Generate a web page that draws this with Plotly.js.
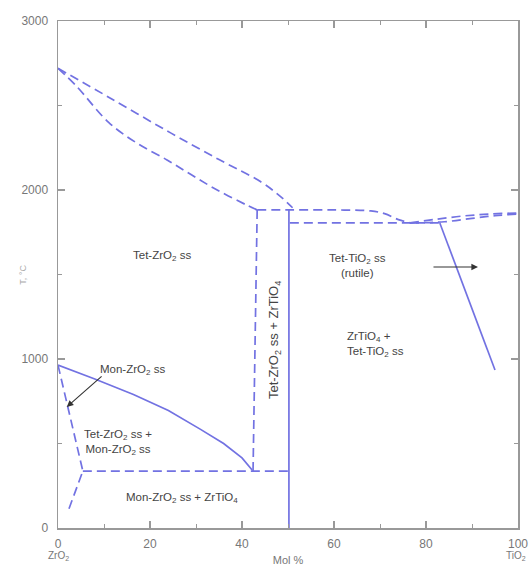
<!DOCTYPE html>
<html>
<head>
<meta charset="utf-8">
<script src="https://cdn.plot.ly/plotly-3.0.1.min.js"></script>
<style>
  html, body { margin: 0; padding: 0; background: #fff; }
  #chart { width: 529px; height: 567px; }
</style>
</head>
<body>
<div id="chart"></div>
<script>
// ZrO2–TiO2 phase diagram (composition in mol % TiO2, temperature in °C)

// Liquidus from pure ZrO2 down to the ZrTiO4 region
const liquidusX = [0, 11.3, 23.7, 35, 44, 48, 51];
const liquidusY = [2720, 2545, 2350, 2180, 2050, 1970, 1895];

// Solidus of tetragonal ZrO2 solid solution
const solidusX = [0, 4, 11, 17, 23.7, 29, 34.6, 41, 43.3];
const solidusY = [2720, 2615, 2400, 2280, 2178, 2090, 2000, 1911, 1882];

// Upper horizontal line and dip to the minimum
const upperX = [43.3, 50.4, 60, 68, 71, 74, 76.5];
const upperY = [1882, 1882, 1882, 1876, 1860, 1825, 1806];

// Lower horizontal line (ZrTiO4 + Tet-TiO2 ss boundary)
const lowerX = [50.4, 83];
const lowerY = [1805, 1805];

// Tet-TiO2 ss liquidus / solidus lens toward pure TiO2
const lensUpperX = [76.5, 82, 88, 94, 100];
const lensUpperY = [1806, 1826, 1846, 1858, 1864];
const lensLowerX = [76.5, 84, 90, 95, 100];
const lensLowerY = [1804, 1812, 1832, 1848, 1858];

// Tet-ZrO2 ss limit (vertical dashed)
const tetLimitX = [43.3, 42.4];
const tetLimitY = [1882, 337];

// ZrTiO4 line
const zrtiX = [50.2, 50.2];
const zrtiY = [1882, 0];

// Mon/Tet ZrO2 transformation boundary
const monBoundX = [0, 8, 16.4, 24, 30.9, 36, 40, 42.2];
const monBoundY = [964, 882, 790, 695, 585, 500, 415, 343];

// Eutectoid horizontal line
const eutectoidX = [5.4, 50.2];
const eutectoidY = [337, 337];

// Mon-ZrO2 ss limit
const monLimitX = [0, 5.4, 2.2];
const monLimitY = [964, 337, 100];

// Rutile solvus
const rutileX = [83, 95];
const rutileY = [1805, 935];

// Region labels: x, y, text
const labelX = [22.6, 65, 62.4, 16.3, 13, 27];
const labelY = [1609, 1556, 1083, 935, 503, 178];
const labelText = [
  'Tet-ZrO<sub>2</sub> ss',
  'Tet-TiO<sub>2</sub> ss<br>(rutile)',
  'ZrTiO<sub>4</sub> +<br>Tet-TiO<sub>2</sub> ss',
  'Mon-ZrO<sub>2</sub> ss',
  'Tet-ZrO<sub>2</sub> ss +<br>Mon-ZrO<sub>2</sub> ss',
  'Mon-ZrO<sub>2</sub> ss + ZrTiO<sub>4</sub>'
];
const labelAnchor = ['center', 'center', 'left', 'center', 'center', 'center'];

// Vertical label inside the narrow two-phase field
const vertLabelX = 47.1;
const vertLabelY = 1110;
const vertLabelText = 'Tet-ZrO<sub>2</sub> ss + ZrTiO<sub>4</sub>';

// Arrows: tail and head
const monArrow = { tailX: 9.8, tailY: 905, headX: 1.9, headY: 716 };
const rutileArrow = { tailX: 81.3, tailY: 1544, headX: 91.3, headY: 1544 };

const xTicks = [0, 20, 40, 60, 80, 100];
const yTicks = [0, 1000, 2000, 3000];

const lineColor = '#7272e2';
const dashed = { color: lineColor, width: 1.7, dash: '9px,5px' };
const solid = { color: lineColor, width: 1.7 };

function seg(x, y, line) {
  return { x: x, y: y, mode: 'lines', line: line, hoverinfo: 'skip', showlegend: false, type: 'scatter' };
}

const traces = [
  seg(liquidusX, liquidusY, Object.assign({}, dashed, { shape: 'spline' })),
  seg(solidusX, solidusY, Object.assign({}, dashed, { shape: 'spline' })),
  seg(upperX, upperY, Object.assign({}, dashed, { shape: 'spline' })),
  seg(lowerX, lowerY, dashed),
  seg(lensUpperX, lensUpperY, Object.assign({}, dashed, { shape: 'spline' })),
  seg(lensLowerX, lensLowerY, Object.assign({}, dashed, { shape: 'spline' })),
  seg(tetLimitX, tetLimitY, dashed),
  seg(zrtiX, zrtiY, solid),
  seg(monBoundX, monBoundY, solid),
  seg(eutectoidX, eutectoidY, dashed),
  seg(monLimitX, monLimitY, dashed),
  seg(rutileX, rutileY, solid)
];

const fam = 'Liberation Sans, Arial, sans-serif';
const textFont = { family: fam, size: 11.5, color: '#444' };
const axisFont = { family: fam, size: 12, color: '#777' };

const annotations = labelX.map((x, i) => ({
  x: x, y: labelY[i], xref: 'x', yref: 'y', text: labelText[i],
  showarrow: false, font: textFont, xanchor: labelAnchor[i], align: labelAnchor[i]
}));

annotations.push({
  x: vertLabelX, y: vertLabelY, xref: 'x', yref: 'y', text: vertLabelText,
  showarrow: false, font: { family: fam, size: 13, color: '#444' }, textangle: -90
});

[monArrow, rutileArrow].forEach(a => {
  annotations.push({
    x: a.headX, y: a.headY, ax: a.tailX, ay: a.tailY,
    xref: 'x', yref: 'y', axref: 'x', ayref: 'y',
    text: '', showarrow: true, arrowhead: 2, arrowsize: 1.2,
    arrowwidth: 1.1, arrowcolor: '#333'
  });
});

// Component names under the ends of the composition axis
annotations.push({ x: 0, y: -0.055, xref: 'x', yref: 'paper', text: 'ZrO<sub>2</sub>',
  showarrow: false, font: { family: fam, size: 10, color: '#777' }, yanchor: 'middle' });
annotations.push({ x: 99.5, y: -0.055, xref: 'x', yref: 'paper', text: 'TiO<sub>2</sub>',
  showarrow: false, font: { family: fam, size: 10, color: '#777' }, yanchor: 'middle' });

// Temperature axis caption
annotations.push({ x: -0.093, y: 0.5, xref: 'paper', yref: 'paper', text: 'T, °C',
  showarrow: false, textangle: -90, font: { family: fam, size: 9, color: '#aaa' } });

const commonAxis = {
  showline: true, linecolor: '#999', linewidth: 1.5, mirror: 'ticks',
  ticks: 'inside', ticklen: 7, tickwidth: 1.3, tickcolor: '#999',
  showgrid: false, zeroline: false, tickfont: axisFont, fixedrange: true
};

const layout = {
  width: 529, height: 567,
  margin: { l: 58, r: 11, t: 21, b: 39 },
  paper_bgcolor: '#fff', plot_bgcolor: '#fff',
  showlegend: false,
  xaxis: Object.assign({}, commonAxis, {
    range: [0, 100], tickvals: xTicks, ticklabelstandoff: 4,
    minor: { dtick: 10, ticklen: 4, tickcolor: '#999', tickwidth: 1, ticks: 'inside' },
    title: { text: 'Mol %', font: { family: fam, size: 11, color: '#777' }, standoff: 6 }
  }),
  yaxis: Object.assign({}, commonAxis, {
    range: [0, 3000], tickvals: yTicks, ticklabelstandoff: 6,
    minor: { dtick: 500, ticklen: 4, tickcolor: '#999', tickwidth: 1, ticks: 'inside' }
  }),
  annotations: annotations
};

Plotly.newPlot('chart', traces, layout, { staticPlot: true, displayModeBar: false });
</script>
</body>
</html>
